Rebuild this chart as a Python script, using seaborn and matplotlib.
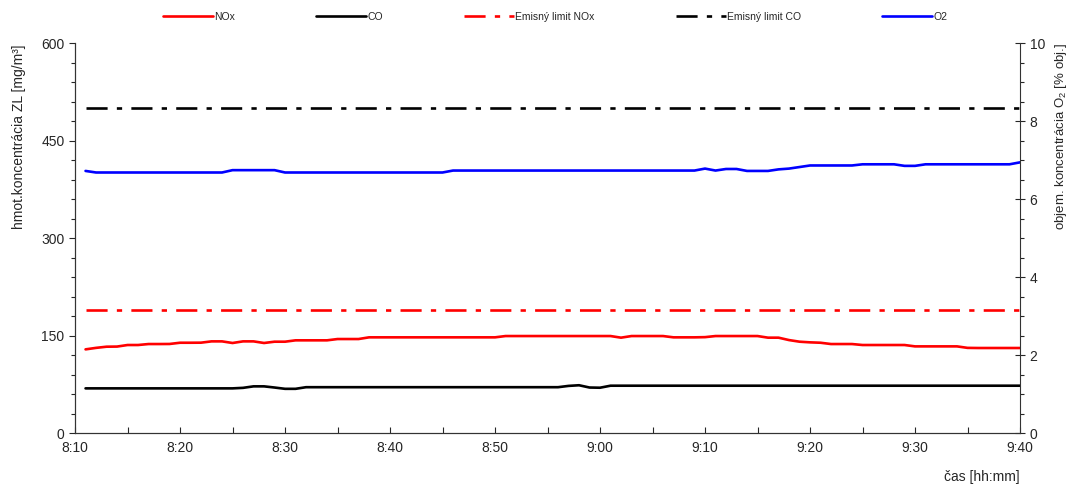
import numpy as np
import pandas as pd
import seaborn as sns
import matplotlib.pyplot as plt
from matplotlib.ticker import MultipleLocator, FuncFormatter

# minutes after midnight, one reading per minute 8:11 .. 9:40
minutes = list(range(491, 581))

nox = [128.7, 131.0, 132.8, 133.0, 135.4, 135.4, 136.9, 136.9, 137.0, 138.9,
       138.9, 139.0, 141.0, 141.0, 138.5, 141.0, 141.0, 138.5, 140.5, 140.5,
       142.6, 142.6, 142.6, 142.6, 144.6, 144.6, 144.6, 147.2, 147.2, 147.2,
       147.2, 147.2, 147.2, 147.2, 147.2, 147.2, 147.2, 147.2, 147.2, 147.2,
       149.2, 149.2, 149.2, 149.2, 149.2, 149.2, 149.2, 149.2, 149.2, 149.2,
       149.2, 146.7, 149.2, 149.2, 149.2, 149.2, 147.2, 147.2, 147.2, 147.5,
       149.2, 149.2, 149.2, 149.2, 149.2, 146.7, 146.7, 143.0, 140.5, 139.5,
       138.9, 136.9, 136.9, 136.9, 135.4, 135.4, 135.4, 135.4, 135.4, 133.3,
       133.3, 133.3, 133.3, 133.3, 131.0, 130.8, 130.8, 130.8, 130.8, 130.8]

co = [68.7] * 15 + [69.5, 71.8, 71.8, 70.0, 68.0, 68.0] + [70.5] * 25 + \
     [72.5, 73.5, 70.0, 69.7] + [72.8] * 40

o2 = [6.72] + [6.68] * 13 + [6.74] * 5 + [6.68] * 16 + [6.73] * 24 + \
     [6.78, 6.73, 6.77, 6.77, 6.72, 6.72, 6.72, 6.76, 6.78, 6.82] + \
     [6.86] * 5 + [6.89] * 4 + [6.85, 6.85] + [6.89] * 9 + [6.94]

limit_nox = 190
limit_co = 500

df = pd.DataFrame({"t": minutes, "NOx": nox, "CO": co, "O2": o2})
df["lim_nox"] = limit_nox
df["lim_co"] = limit_co

sns.set_style("ticks")
plt.rcParams["font.family"] = ["Liberation Sans", "DejaVu Sans"]
plt.rcParams["mathtext.fontset"] = "custom"
plt.rcParams["mathtext.rm"] = "Liberation Sans"

fig = plt.figure(figsize=(10.72, 4.86), dpi=100)
ax = fig.add_axes([0.07, 0.109, 0.8815, 0.8025])
ax2 = ax.twinx()

lw = 1.9
dash = (8, 3.5, 2, 3.5)
sns.lineplot(data=df, x="t", y="NOx", ax=ax, color="#ff0000", lw=lw, label="NOx", legend=False)
sns.lineplot(data=df, x="t", y="CO", ax=ax, color="black", lw=lw, label="CO", legend=False)
l3 = sns.lineplot(data=df, x="t", y="lim_nox", ax=ax, color="#ff0000", lw=lw, label="Emisný limit NOx", legend=False).lines[-1]
l3.set_dashes(dash)
l4 = sns.lineplot(data=df, x="t", y="lim_co", ax=ax, color="black", lw=lw, label="Emisný limit CO", legend=False).lines[-1]
l4.set_dashes(dash)
sns.lineplot(data=df, x="t", y="O2", ax=ax2, color="#0000ff", lw=lw, label="O2", legend=False)

ax.set_xlim(490, 580)
ax.set_ylim(0, 600)
ax2.set_ylim(0, 10)

ax.xaxis.set_major_locator(MultipleLocator(10))
ax.xaxis.set_minor_locator(MultipleLocator(5))
ax.xaxis.set_major_formatter(FuncFormatter(lambda v, p: f"{int(v) // 60}:{int(v) % 60:02d}"))
ax.yaxis.set_major_locator(MultipleLocator(150))
ax.yaxis.set_minor_locator(MultipleLocator(30))
ax2.yaxis.set_major_locator(MultipleLocator(2))
ax2.yaxis.set_minor_locator(MultipleLocator(0.5))

ax.tick_params(axis="x", which="both", direction="in", length=4, width=0.8, labelsize=10, pad=6)
ax.tick_params(axis="y", which="major", direction="out", length=4, width=0.8, labelsize=10)
ax.tick_params(axis="y", which="minor", direction="out", length=3, width=0.8)
ax2.tick_params(axis="y", which="major", direction="inout", length=7, width=0.8, labelsize=10)
ax2.tick_params(axis="y", which="minor", direction="out", length=3, width=0.8)

for a in (ax, ax2):
    a.spines["top"].set_visible(False)
    for s in ("left", "right", "bottom"):
        a.spines[s].set_linewidth(0.8)
        a.spines[s].set_color("#333333")
ax.spines["right"].set_visible(False)

ax.set_xlabel("čas [hh:mm]", fontsize=10, loc="right")
ax.xaxis.set_label_coords(1.0, -0.095)
ax.xaxis.label.set_horizontalalignment("right")
ax.set_ylabel("hmot.koncentrácia ZL [mg/m³]", fontsize=10)
ax.yaxis.set_label_coords(-0.052, 0.76)
ax2.set_ylabel(r"objem. koncentrácia O$_\mathregular{2}$ [% obj.]", fontsize=9.5)
ax2.yaxis.set_label_coords(1.035, 0.76)

h1, lab1 = ax.get_legend_handles_labels()
h2, lab2 = ax2.get_legend_handles_labels()
fig.legend(h1 + h2, lab1 + lab2, loc="center", bbox_to_anchor=(0.518, 0.965), ncol=5,
           frameon=False, fontsize=7.5, handlelength=4.8, handletextpad=0.1, columnspacing=7.8)

fig.savefig("out.png", dpi=100)
